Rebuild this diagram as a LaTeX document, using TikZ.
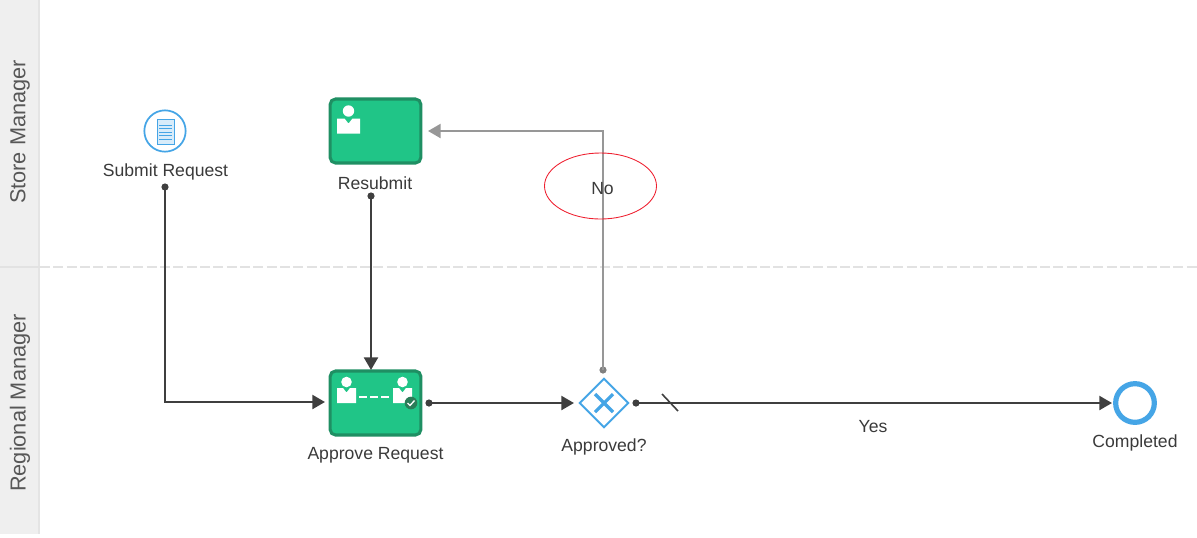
\documentclass[tikz,border=0pt]{standalone}
\usepackage{fontspec}
\setmainfont{Liberation Sans}
\usetikzlibrary{arrows.meta,shapes.geometric}
\definecolor{bandgrey}{HTML}{EFEFEF}
\definecolor{bandedge}{HTML}{E4E4E4}
\definecolor{laneline}{HTML}{E2E2E2}
\definecolor{inkdark}{HTML}{3F3F3F}
\definecolor{inkgrey}{HTML}{979797}
\definecolor{textink}{HTML}{3A3A3A}
\definecolor{taskfill}{HTML}{20C587}
\definecolor{taskedge}{HTML}{1F8F63}
\definecolor{badgegreen}{HTML}{2A7D58}
\definecolor{bpmnblue}{HTML}{45A5E6}
\definecolor{doclight}{HTML}{D8ECFA}
\definecolor{markred}{HTML}{EE2030}
\tikzset{
  x=0.75pt,y=-0.75pt,
  tasklook/.style={draw=taskedge,line width=2.3pt,fill=taskfill,rounded corners=4pt,minimum width=68pt,minimum height=48pt,inner sep=0pt},
  lbl/.style={font=\fontsize{13.2pt}{15pt}\selectfont,text=textink,inner sep=0pt},
  lanelbl/.style={font=\fontsize{16.3pt}{18pt}\selectfont,text=textink!85!white,rotate=90,inner sep=0pt},
  flow/.style={draw=inkdark,line width=1.75pt,-{Triangle[length=9.5pt,width=10.5pt]}},
  flowgrey/.style={draw=inkgrey,line width=1.75pt,-{Triangle[length=9.5pt,width=10.5pt]}},
  startdot/.style={circle,fill=inkdark,inner sep=0pt,minimum size=5.4pt},
  startdotgrey/.style={circle,fill=inkgrey!85!black,inner sep=0pt,minimum size=5.4pt},
  person/.pic={
    \fill[white] (0,-9) circle[radius=5.7];
    \fill[white] (-11.5,-1.5) -- (-4,-1.5) -- (0,3.5) -- (4,-1.5) -- (11.5,-1.5) -- (11.5,13.5) -- (-11.5,13.5) -- cycle;
  },
  personsmall/.pic={
    \fill[white] (0,-9) circle[radius=5.3];
    \fill[white] (-9.5,-3) -- (-3.5,-3) -- (0,1.5) -- (3.5,-3) -- (9.5,-3) -- (9.5,12) -- (-9.5,12) -- cycle;
  }
}
\begin{document}
\begin{tikzpicture}
\useasboundingbox (0,0) rectangle (1197,537);
% lanes
\fill[bandgrey] (0,0) rectangle (38,534);
\fill[bandedge] (38,0) rectangle (40,534);
\draw[laneline,line width=1.7pt] (0,267) -- (40,267);
\draw[laneline,line width=1.7pt,dash pattern=on 7.5pt off 2.5pt] (40,267) -- (1197,267);
\node[lanelbl] (laneStore) at (20,132) {Store Manager};
\node[lanelbl] (laneRegional) at (20,403) {Regional Manager};

% start event
\node[circle,draw=bpmnblue,line width=1.3pt,fill=white,minimum size=31pt,inner sep=0pt] (start) at (165,131) {};
\fill[doclight] (157,119) rectangle (174,144);
\draw[bpmnblue,line width=0.6pt] (157,119) rectangle (174,144);
\foreach \yy in {125,128.5,132,135.5,139}{\draw[bpmnblue,line width=0.6pt] (159,\yy) -- (172,\yy);}
\node[lbl] (startLbl) at (165.5,172) {Submit Request};

% tasks
\node[tasklook] (resubmit) at (375.5,131) {};
\pic at (348.5,120) {person};
\node[lbl] (resubmitLbl) at (375,183) {Resubmit};

\node[tasklook] (approve) at (375.5,403) {};
\pic at (346.5,391) {personsmall};
\pic at (402.5,391) {personsmall};
\draw[white,line width=1.7pt,dash pattern=on 6pt off 2.25pt] (359,397) -- (389,397);
\node[circle,fill=badgegreen,minimum size=9.5pt,inner sep=0pt] (badge) at (411,403) {};
\draw[white,line width=1pt] (407.5,403) -- (410,405.5) -- (414.5,400.5);
\node[lbl] (approveLbl) at (375.5,455.5) {Approve Request};

% gateway
\node[diamond,draw=bpmnblue,line width=1.5pt,fill=white,minimum width=37pt,minimum height=37pt,inner sep=0pt,aspect=1] (gate) at (604,403) {};
\draw[bpmnblue,line width=2.4pt] (595,394) -- (613,412) (613,394) -- (595,412);
\node[lbl] (gateLbl) at (604,447) {Approved?};

% end event
\node[circle,draw=bpmnblue,line width=3.9pt,fill=white,minimum size=29pt,inner sep=0pt] (finish) at (1135,403) {};
\node[lbl] (finishLbl) at (1135,443) {Completed};

% connector dots and ends
\node[startdot] (d1) at (165,187) {};
\node[startdot] (d2) at (371,196) {};
\node[startdot] (d3) at (429,403) {};
\node[startdot] (d4) at (636,403) {};
\node[startdotgrey] (d5) at (603,370) {};
\coordinate (e1) at (325,402);
\coordinate (e2) at (371,370);
\coordinate (e3) at (574,403);
\coordinate (e4) at (1112,403);
\coordinate (e5) at (428,131);
\coordinate (s1) at (662,394);
\coordinate (s2) at (678,411);

\draw[flow] (d1.center) |- (e1);
\draw[flow] (d2.center) -- (e2);
\draw[flow] (d3.center) -- (e3);
\draw[flow] (d4.center) -- (e4);
\draw[flowgrey] (d5.center) |- (e5);
\draw[draw=inkdark,line width=1.2pt] (s1) -- (s2);

% labels on flows
\node[lbl] (yes) at (873,427) {Yes};
\node[lbl] (no) at (602.5,189) {No};
\node[ellipse,draw=markred,line width=0.65pt,minimum width=84pt,minimum height=49.5pt,inner sep=0pt] (mark) at (600.5,186) {};
\end{tikzpicture}
\end{document}
